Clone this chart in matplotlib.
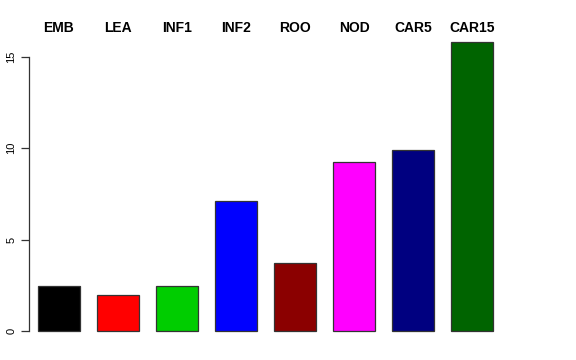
import matplotlib
matplotlib.use("Agg")
import matplotlib.pyplot as plt
from matplotlib.transforms import blended_transform_factory, offset_copy

# tissue labels and bar heights
tissues = ["EMB", "LEA", "INF1", "INF2", "ROO", "NOD", "CAR5", "CAR15"]
values = [2.45, 1.95, 2.45, 7.1, 3.7, 9.25, 9.9, 15.8]
colors = ["#000000", "#FF0000", "#00CD00", "#0000FF",
          "#8B0000", "#FF00FF", "#000080", "#006400"]
yticks = [0, 5, 10, 15]

plt.rcParams['font.family'] = ['Liberation Sans', 'DejaVu Sans']

fig = plt.figure(figsize=(5.76, 3.6), dpi=100)
ax = fig.add_axes([29 / 576, 17.5 / 360, 473 / 576, 311 / 360])

x = list(range(len(tissues)))
ax.bar(x, values, width=0.71, color=colors, edgecolor="#333333", linewidth=0.9)

ax.set_xlim(-0.508, len(tissues) - 0.492)
ax.set_ylim(-0.63, 16.39)

for s in ["top", "right", "bottom"]:
    ax.spines[s].set_visible(False)
ax.spines["left"].set_bounds(0, 15)
ax.spines["left"].set_color("#333333")
ax.spines["left"].set_linewidth(0.9)

ax.set_yticks(yticks)
ax.set_yticklabels([str(t) for t in yticks], rotation=90, va="center", fontsize=8)
ax.tick_params(axis="y", length=6, width=0.9, color="#333333", pad=3)
ax.set_xticks([])

# labels sit just above the plot region, like R's mtext
trans = offset_copy(blended_transform_factory(ax.transData, ax.transAxes),
                    fig=fig, y=2.5, units="points")
for xi, name in zip(x, tissues):
    ax.text(xi, 1.0, name, transform=trans, ha="center", va="center",
            fontsize=10, fontweight="bold")

fig.savefig("out.png", dpi=100)
